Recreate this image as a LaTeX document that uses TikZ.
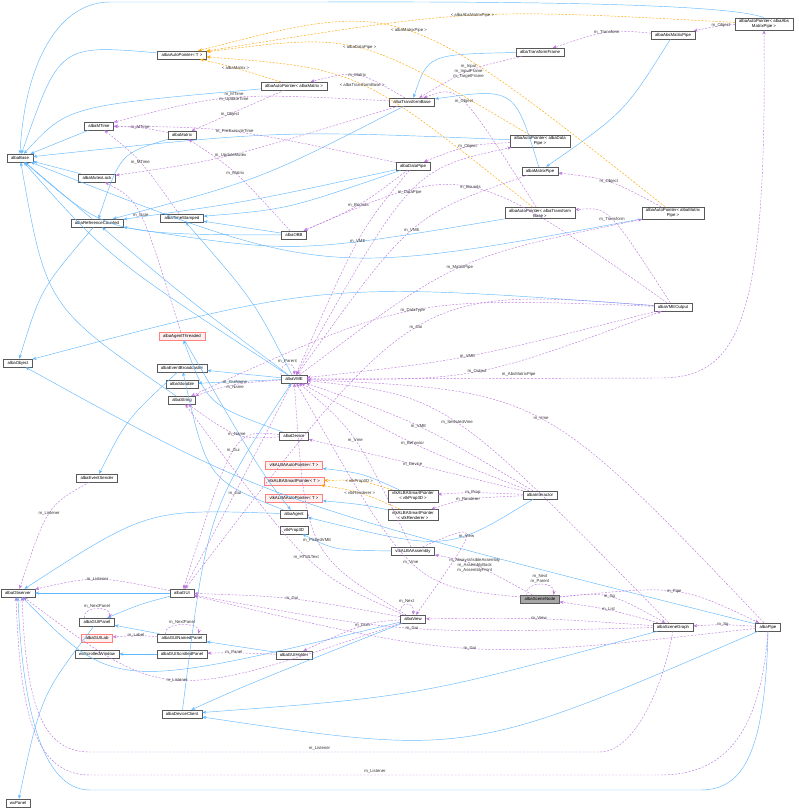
\documentclass[tikz,border=0pt]{standalone}
\usepackage{fontspec}
\setmainfont{Liberation Sans}
\usetikzlibrary{calc,arrows.meta}
\definecolor{ublue}{HTML}{63B8FF}
\definecolor{upurp}{HTML}{A040D0}
\definecolor{uorange}{HTML}{FFA500}
\definecolor{ured}{HTML}{FF8080}
\newcommand\fsz{\fontsize{4.3}{5}\selectfont}
\tikzset{
 box/.style={draw=gray!70!black, fill=white, font=\fsz, inner xsep=4pt, inner ysep=1.6pt, minimum height=8pt, line width=0.45pt, align=center},
 rbox/.style={box, draw=ured, fill=red!6},
 gbox/.style={box, fill=gray!70},
 lbl/.style={font=\fsz, inner sep=0.5pt, align=center, text=black!80},
 inh/.style={draw=ublue, line width=0.45pt, -{Stealth[length=4pt,width=3.2pt]}},
 use/.style={draw=upurp!70, dashed, dash pattern=on 2pt off 1.5pt, line width=0.45pt, -{Stealth[length=4pt,width=3.2pt]}},
 tpl/.style={draw=uorange, dashed, dash pattern=on 2pt off 1.5pt, line width=0.45pt, -{Stealth[length=4pt,width=3.2pt]}},
}
\newcommand\myue[4]{\draw[use] (#1) .. controls ($1.3333*#3-0.16667*(#1)-0.16667*(#2)$) .. (#2) node[lbl,pos=.5]{#4};}
\newcommand\myoe[4]{\draw[tpl] (#1) .. controls ($1.3333*#3-0.16667*(#1)-0.16667*(#2)$) .. (#2) node[lbl,pos=.5]{#4};}
\newcommand\mybe[2]{\draw[inh] (#1) -- (#2);}
\newcommand\mybc[3]{\draw[inh] (#1) .. controls ($1.3333*#3-0.16667*(#1)-0.16667*(#2)$) .. (#2);}
\begin{document}
\begin{tikzpicture}[x=1pt,y=-1pt]
\useasboundingbox (0,0) rectangle (799,809);
% nodes
\node[box] (base) at (20,158) {albaBase};
\node[box] (apt) at (182,55) {albaAutoPointer< T >};
\node[box] (apm) at (294,86) {albaAutoPointer< albaMatrix >};
\node[box] (mtime) at (99,126) {albaMTime};
\node[box] (matrix) at (182,135) {albaMatrix};
\node[box] (mutex) at (97,178) {albaMutexLock};
\node[box] (refc) at (97,223) {albaReferenceCounted};
\node[box] (tstamp) at (182,218) {albaTimeStamped};
\node[box] (obb) at (294,235) {albaOBB};
\node[box] (tb) at (412,102) {albaTransformBase};
\node[box] (tf) at (540,52) {albaTransformFrame};
\node[box] (amp) at (673,35) {albaAbsMatrixPipe};
\node[box] (apamp) at (764,24) {albaAutoPointer< albaAbs\\MatrixPipe >};
\node[box] (apdp) at (540,141) {albaAutoPointer< albaData\\Pipe >};
\node[box] (dp) at (413,166) {albaDataPipe};
\node[box] (mp) at (540,171) {albaMatrixPipe};
\node[box] (aptb) at (540,213) {albaAutoPointer< albaTransform\\Base >};
\node[box] (apmp) at (673,213) {albaAutoPointer< albaMatrix\\Pipe >};
\node[box] (vout) at (673,307) {albaVMEOutput};
\node[rbox] (agth) at (182,336) {albaAgentThreaded};
\node[box] (obj) at (18,363) {albaObject};
\node[box] (evb) at (182,368) {albaEventBroadcaster};
\node[box] (stor) at (182,384) {albaStorable};
\node[box] (str) at (182,400) {albaString};
\node[box] (vme) at (294,379) {albaVME};
\node[box] (dev) at (294,436) {albaDevice};
\node[rbox] (vap1) at (294,465) {vtkALBAAutoPointer< T >};
\node[rbox] (vsp) at (294,481) {vtkALBASmartPointer< T >};
\node[rbox] (vap2) at (294,498) {vtkALBAAutoPointer< T >};
\node[box] (agent) at (294,514) {albaAgent};
\node[box] (prop) at (294,530) {vtkProp3D};
\node[box] (evs) at (97,478) {albaEventSender};
\node[box] (spp) at (413,496) {vtkALBASmartPointer\\< vtkProp3D >};
\node[box] (spr) at (413,515) {vtkALBASmartPointer\\< vtkRenderer >};
\node[box] (inter) at (540,495) {albaInteractor};
\node[box] (asm) at (413,551) {vtkALBAAssembly};
\node[gbox] (sn) at (540,599) {albaSceneNode};
\node[box] (view) at (413,619) {albaView};
\node[box] (sg) at (673,627) {albaSceneGraph};
\node[box] (pipe) at (768,627) {albaPipe};
\node[box] (obs) at (18,593) {albaObserver};
\node[box] (gui) at (182,593) {albaGUI};
\node[box] (gpanel) at (97,622) {albaGUIPanel};
\node[rbox] (glab) at (97,638) {albaGUILab};
\node[box] (wxsw) at (97,654) {wxScrolledWindow};
\node[box] (gnp) at (182,638) {albaGUINamedPanel};
\node[box] (gsp) at (182,654) {albaGUIScrolledPanel};
\node[box] (gh) at (294,655) {albaGUIHolder};
\node[box] (dc) at (182,714) {albaDeviceClient};
\node[box] (wxp) at (18,803) {wxPanel};
\coordinate (c1) at (300,2);
\coordinate (c2) at (110,2);
\coordinate (c3) at (700,790);
\coordinate (c4) at (90,790);
\coordinate (c5) at (660,775);
\coordinate (c6) at (90,775);
\coordinate (c7) at (600,752);
\coordinate (c8) at (90,752);
\coordinate (c9) at (660,378);
% inheritance
\mybc{apt}{base}{(70,60)}
\mybc{apm}{base}{(90,110)}
\mybe{mtime}{base}
\mybc{matrix}{refc}{(125,160)}
\mybe{mutex}{base}
\mybe{refc}{base}
\mybe{obb}{tstamp}
\mybc{obb}{base}{(120,225)}
\mybc{tb}{refc}{(260,175)}
\mybc{tf}{tb}{(440,60)}
\mybc{amp}{mp}{(620,110)}
\draw[inh] (apamp.north) .. controls (720,0) and (400,2) .. (c1) -- (c2) .. controls (60,2) and (25,60) .. (base.north);
\mybc{apdp}{base}{(280,135)}
\mybc{mp}{tb}{(505,100)}
\mybc{dp}{refc}{(250,200)}
\mybc{dp}{tstamp}{(290,205)}
\mybc{aptb}{refc}{(300,245)}
\mybc{apmp}{base}{(330,255)}
\mybc{vout}{obj}{(330,295)}
\mybc{refc}{obj}{(45,290)}
\mybc{vme}{refc}{(190,300)}
\mybc{vme}{tstamp}{(250,300)}
\mybe{vme}{evb}
\mybe{vme}{stor}
\mybc{vme}{base}{(120,260)}
\mybc{str}{base}{(60,300)}
\mybc{dev}{agth}{(215,400)}
\mybc{agth}{agent}{(255,460)}
\mybc{agent}{evb}{(215,470)}
\mybc{agent}{obs}{(150,520)}
\mybc{evb}{evs}{(130,420)}
\mybc{inter}{agent}{(440,540)}
\mybc{spp}{vap1}{(360,475)}
\mybc{spr}{vap2}{(360,505)}
\mybc{asm}{prop}{(340,548)}
\mybe{gui}{obs}
\mybc{gui}{gpanel}{(140,605)}
\mybe{gnp}{gpanel}
\mybe{gsp}{wxsw}
\mybe{gh}{gnp}
\mybc{gpanel}{wxp}{(45,700)}
\mybc{view}{obs}{(140,670)}
\mybc{view}{dc}{(260,680)}
\mybc{sg}{dc}{(420,690)}
\mybc{pipe}{dc}{(470,735)}
\draw[inh] (pipe.south) .. controls (765,760) and (740,790) .. (c3) -- (c4) .. controls (40,790) and (22,700) .. (obs.south);
\mybc{pipe}{obj}{(300,500)}
\mybc{dc}{vme}{(215,520)}
% templates
\myoe{apamp}{apt}{(473,16)}{< albaAbsMatrixPipe >}
\myoe{apmp}{apt}{(408,32)}{< albaMatrixPipe >}
\myoe{apdp}{apt}{(358,49)}{< albaDataPipe >}
\myoe{apm}{apt}{(235,68)}{< albaMatrix >}
\myoe{aptb}{apt}{(360,85)}{< albaTransformBase >}
\myoe{spp}{vsp}{(358,482)}{< vtkProp3D >}
\myoe{spr}{vsp}{(358,493)}{< vtkRenderer >}
% usage
\myue{tb}{apm}{(356,76)}{m\_Matrix}
\myue{tb}{mtime}{(235,98)}{m\_MTime\\m\_UpdateTime}
\myue{apm}{matrix}{(230,114)}{m\_Object}
\myue{matrix}{mtime}{(140,128)}{m\_MTime}
\myue{dp}{mtime}{(235,132)}{m\_PreExecuteTime}
\myue{tb}{mutex}{(230,155)}{m\_UpdateMutex}
\myue{tstamp}{mtime}{(140,162)}{m\_MTime}
\myue{obb}{matrix}{(235,173)}{m\_Matrix}
\myue{agth}{mutex}{(140,215)}{m\_Gate}
\myue{dp}{obb}{(358,205)}{m\_Bounds}
\myue{vout}{obb}{(470,188)}{m\_Bounds}
\myue{dp}{vme}{(358,241)}{m\_VME}
\myue{mp}{vme}{(413,230)}{m\_VME}
\myue{vme}{apdp}{(413,192)}{m\_DataPipe}
\myue{vme}{apmp}{(463,267)}{m\_MatrixPipe}
\myue{apdp}{dp}{(470,147)}{m\_Object}
\myue{aptb}{tb}{(463,103)}{m\_Object}
\myue{apmp}{mp}{(608,182)}{m\_Object}
\myue{vout}{aptb}{(608,220)}{m\_Transform}
\myue{tf}{tb}{(470,71)}{m\_Input\\m\_InputFrame\\m\_TargetFrame}
\myue{amp}{tf}{(608,33)}{m\_Transform}
\myue{apamp}{amp}{(722,26)}{m\_Object}
\myue{vout}{str}{(414,311)}{m\_DataType}
\myue{vout}{gui}{(418,328)}{m\_Gui}
\myue{vout}{vme}{(468,356)}{m\_VME}
\myue{vme}{vout}{(477,371)}{m\_Output}
\draw[use] (vme) -- (c9) node[lbl,pos=.6,above=1pt]{m\_AbsMatrixPipe} .. controls (740,378) and (767,320) .. (apamp.south);
\draw[use] (vme.north west) .. controls +(-2,-14) and +(2,-14) .. (vme.north) node[lbl,pos=.5,above]{m\_Parent};
\myue{vme}{str}{(235,385)}{m\_GuiName\\m\_Name}
\myue{dev}{str}{(238,434)}{m\_Name}
\myue{dev}{gui}{(235,451)}{m\_Gui}
\myue{vme}{gui}{(235,493)}{m\_Gui}
\myue{evs}{obs}{(50,513)}{m\_Listener}
\myue{asm}{vme}{(355,440)}{m\_Vme}
\myue{sn}{vme}{(413,562)}{m\_Vme}
\myue{inter}{vme}{(418,426)}{m\_VME}
\myue{inter}{vme}{(413,443)}{m\_Behavior}
\myue{sg}{vme}{(456,423)}{m\_SelectedVme}
\myue{pipe}{vme}{(540,419)}{m\_Vme}
\myue{inter}{dev}{(413,464)}{m\_Device}
\myue{inter}{spp}{(472,493)}{m\_Prop}
\myue{inter}{spr}{(468,500)}{m\_Renderer}
\myue{asm}{view}{(465,537)}{m\_View}
\myue{view}{vme}{(318,540)}{m\_PickedVME}
\myue{view}{str}{(307,557)}{m\_HTMLText}
\myue{sn}{asm}{(473,565)}{m\_AlwaysVisibleAssembly\\m\_AssemblyBack\\m\_AssemblyFront}
\draw[use] ([xshift=6pt]sn.north west) .. controls +(-2,-14) and +(2,-14) .. ([xshift=-6pt]sn.north east) node[lbl,pos=.5,above]{m\_Next\\m\_Parent};
\myue{sn}{pipe}{(673,592)}{m\_Pipe}
\myue{sn}{sg}{(608,597)}{m\_Sg}
\myue{sg}{sn}{(608,610)}{m\_List}
\myue{sg}{view}{(540,619)}{m\_View}
\myue{pipe}{sg}{(722,625)}{m\_Sg}
\draw[use] (view.north west) .. controls +(-2,-14) and +(2,-14) .. (view.north) node[lbl,pos=.5,above]{m\_Next};
\myue{view}{gui}{(292,599)}{m\_Gui}
\myue{view}{gh}{(363,626)}{m\_Guih}
\myue{sg}{gui}{(413,628)}{m\_Gui}
\myue{pipe}{gui}{(470,648)}{m\_Gui}
\myue{gui}{obs}{(97,580)}{m\_Listener}
\draw[use] ([xshift=5pt]gpanel.north west) .. controls +(-2,-12) and +(2,-12) .. ([xshift=-5pt]gpanel.north east) node[lbl,pos=.5,above]{m\_NextPanel};
\draw[use] ([xshift=8pt]gnp.north west) .. controls +(-2,-12) and +(2,-12) .. ([xshift=-8pt]gnp.north east) node[lbl,pos=.5,above]{m\_NextPanel};
\myue{gnp}{glab}{(137,636)}{m\_Label}
\myue{gh}{gsp}{(233,653)}{m\_Panel}
\myue{view}{obs}{(178,679)}{m\_Listener}
\draw[use] (sg.south) .. controls (660,700) and (630,752) .. (c7) -- (c8) node[lbl,pos=.55,above=1pt]{m\_Listener} .. controls (40,752) and (26,700) .. ([xshift=4pt]obs.south);
\draw[use] (pipe.south) .. controls (760,740) and (720,775) .. (c5) -- (c6) node[lbl,pos=.5,above=1pt]{m\_Listener} .. controls (30,775) and (20,700) .. ([xshift=-2pt]obs.south);
\end{tikzpicture}
\end{document}
